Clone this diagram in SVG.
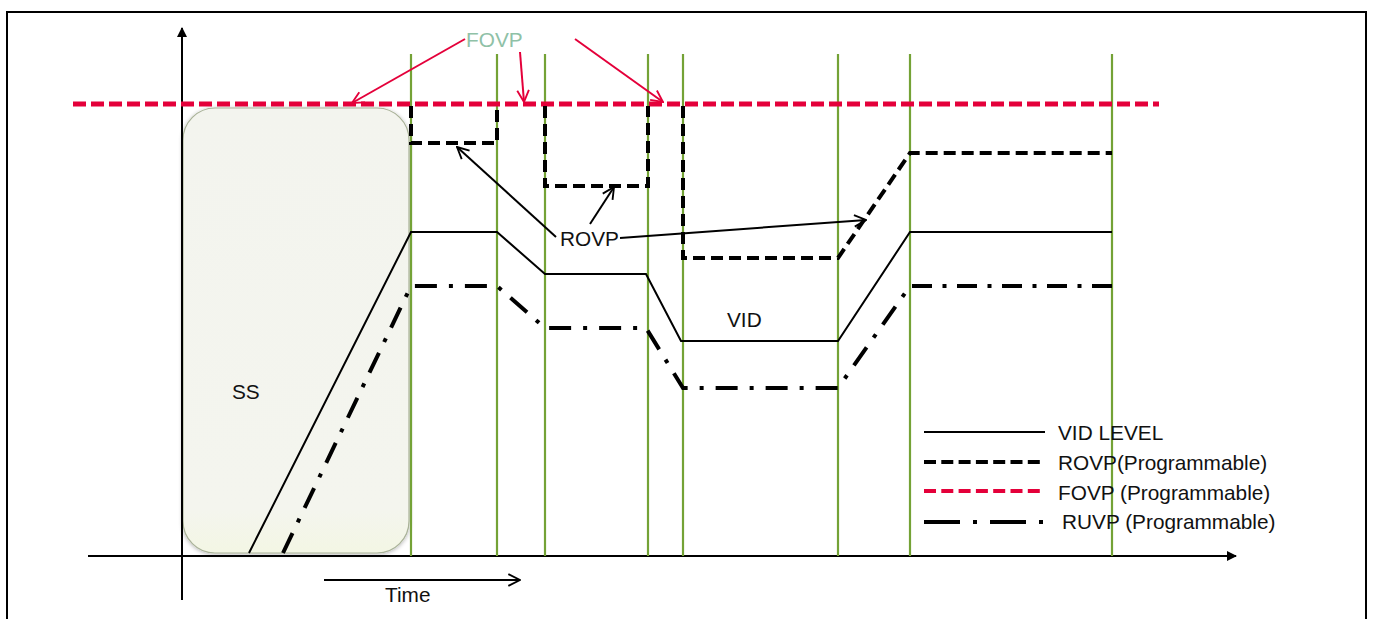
<svg xmlns="http://www.w3.org/2000/svg" width="1373" height="619" viewBox="0 0 1373 619">
<style>
text{font-family:"Liberation Sans",Arial,sans-serif;font-size:20.8px;fill:#111}
.g{stroke:#74a236;stroke-width:2.2;fill:none}
.fovp{stroke:#e4003a;stroke-width:4.8;stroke-dasharray:13 5;fill:none}
.rovp{stroke:#000;stroke-width:4;stroke-dasharray:12 6;fill:none}
.vid{stroke:#000;stroke-width:2;fill:none}
.ruvp{stroke:#000;stroke-width:4;stroke-dasharray:22 12 4 12;fill:none}
.ax{stroke:#000;stroke-width:2;fill:none}
.ra{stroke:#e4003a;stroke-width:2;fill:none}
.ba{stroke:#000;stroke-width:2;fill:none}
</style>
<defs>
<marker id="tri" viewBox="0 0 10 10" refX="9" refY="5" markerWidth="5" markerHeight="5" orient="auto" markerUnits="strokeWidth"><path d="M0,0 L10,5 L0,10 z" fill="#000"/></marker>
<marker id="openR" viewBox="0 0 12 12" refX="11" refY="6" markerWidth="7" markerHeight="7" orient="auto" markerUnits="strokeWidth"><path d="M1,1 L11,6 L1,11" fill="none" stroke="#e4003a" stroke-width="1.6"/></marker>
<marker id="openB" viewBox="0 0 12 12" refX="11" refY="6" markerWidth="7" markerHeight="7" orient="auto" markerUnits="strokeWidth"><path d="M1,1 L11,6 L1,11" fill="none" stroke="#000" stroke-width="1.6"/></marker>
<linearGradient id="ssg" x1="0" y1="0" x2="0" y2="1"><stop offset="0" stop-color="#f3f4ee"/><stop offset="0.9" stop-color="#f4f5ee"/><stop offset="1" stop-color="#f3f6e4"/></linearGradient>
<filter id="sh" x="-10%" y="-5%" width="120%" height="110%"><feGaussianBlur in="SourceAlpha" stdDeviation="2"/><feOffset dx="0" dy="1"/><feComponentTransfer><feFuncA type="linear" slope="0.3"/></feComponentTransfer><feMerge><feMergeNode/><feMergeNode in="SourceGraphic"/></feMerge></filter>
</defs>
<rect x="0" y="0" width="1373" height="619" fill="#fff"/>
<rect x="7" y="12" width="1359" height="620" fill="none" stroke="#000" stroke-width="2"/>

<g id="ss-box">
<rect x="183" y="108" width="226" height="445" rx="32" ry="32" fill="url(#ssg)" stroke="#a9b298" stroke-width="1.2" filter="url(#sh)"/>
<text x="232" y="399">SS</text>
</g>

<g id="axes">
<line class="ax" x1="182" y1="600" x2="182" y2="28" marker-end="url(#tri)"/>
<line class="ax" x1="88" y1="556" x2="1236" y2="556" marker-end="url(#tri)"/>
</g>

<g id="time-markers">
<line class="g" x1="411" y1="54" x2="411" y2="556"/>
<line class="g" x1="497" y1="54" x2="497" y2="556"/>
<line class="g" x1="545" y1="54" x2="545" y2="556"/>
<line class="g" x1="648" y1="54" x2="648" y2="556"/>
<line class="g" x1="683" y1="54" x2="683" y2="556"/>
<line class="g" x1="838" y1="54" x2="838" y2="556"/>
<line class="g" x1="910" y1="54" x2="910" y2="556"/>
<line class="g" x1="1112" y1="54" x2="1112" y2="556"/>
</g>

<g id="fovp-line">
<line class="fovp" x1="73" y1="104" x2="1159" y2="104"/>
</g>

<g id="rovp-line">
<path class="rovp" d="M411,106 L411,143 L497,143 L497,106"/>
<path class="rovp" d="M545,106 L545,186 L648,186 L648,106"/>
<path class="rovp" d="M683,106 L683,258 L838,258 L910,153 L1112,153"/>
</g>

<g id="vid-line">
<path class="vid" d="M249,553 L411,232 L497,232 L545,274 L646,274 L681,341 L838,341 L910,232 L1112,232"/>
</g>

<g id="ruvp-line">
<path class="ruvp" d="M283,553 L411,286 L497,286 L545,328 L646,328 L683,388 L838,388 L910,286"/>
<path class="ruvp" d="M912,286 L1112,286" style="stroke-dasharray:20 10.5 4 10.5"/>
</g>

<g id="labels">
<text x="466" y="47" style="fill:#8fc1a7">FOVP</text>
<text x="560" y="246">ROVP</text>
<text x="727" y="327">VID</text>
<text x="385" y="602">Time</text>
</g>

<g id="connectors">
<line class="ra" x1="465" y1="39" x2="352" y2="103" marker-end="url(#openR)"/>
<line class="ra" x1="520" y1="52" x2="524" y2="102" marker-end="url(#openR)"/>
<line class="ra" x1="575" y1="39" x2="663" y2="102" marker-end="url(#openR)"/>
<line class="ba" x1="556" y1="237" x2="457" y2="147" marker-end="url(#openB)"/>
<line class="ba" x1="590" y1="224" x2="614" y2="187" marker-end="url(#openB)"/>
<line class="ba" x1="620" y1="238" x2="866" y2="220" marker-end="url(#openB)"/>
<line class="ba" x1="324" y1="580" x2="520" y2="580" marker-end="url(#openB)"/>
</g>

<g id="legend">
<line class="vid" x1="924" y1="432" x2="1045" y2="432"/>
<line class="rovp" x1="924" y1="462" x2="1045" y2="462" style="stroke-dasharray:12 5.3"/>
<line class="fovp" x1="924" y1="491" x2="1045" y2="491" style="stroke-width:4;stroke-dasharray:12 5.3"/>
<line class="ruvp" x1="924" y1="522" x2="1045" y2="522" style="stroke-dasharray:36 13 4 13"/>
<text x="1058" y="440">VID LEVEL</text>
<text x="1058" y="470">ROVP(Programmable)</text>
<text x="1058" y="500">FOVP (Programmable)</text>
<text x="1062" y="529">RUVP (Programmable)</text>
</g>
</svg>
